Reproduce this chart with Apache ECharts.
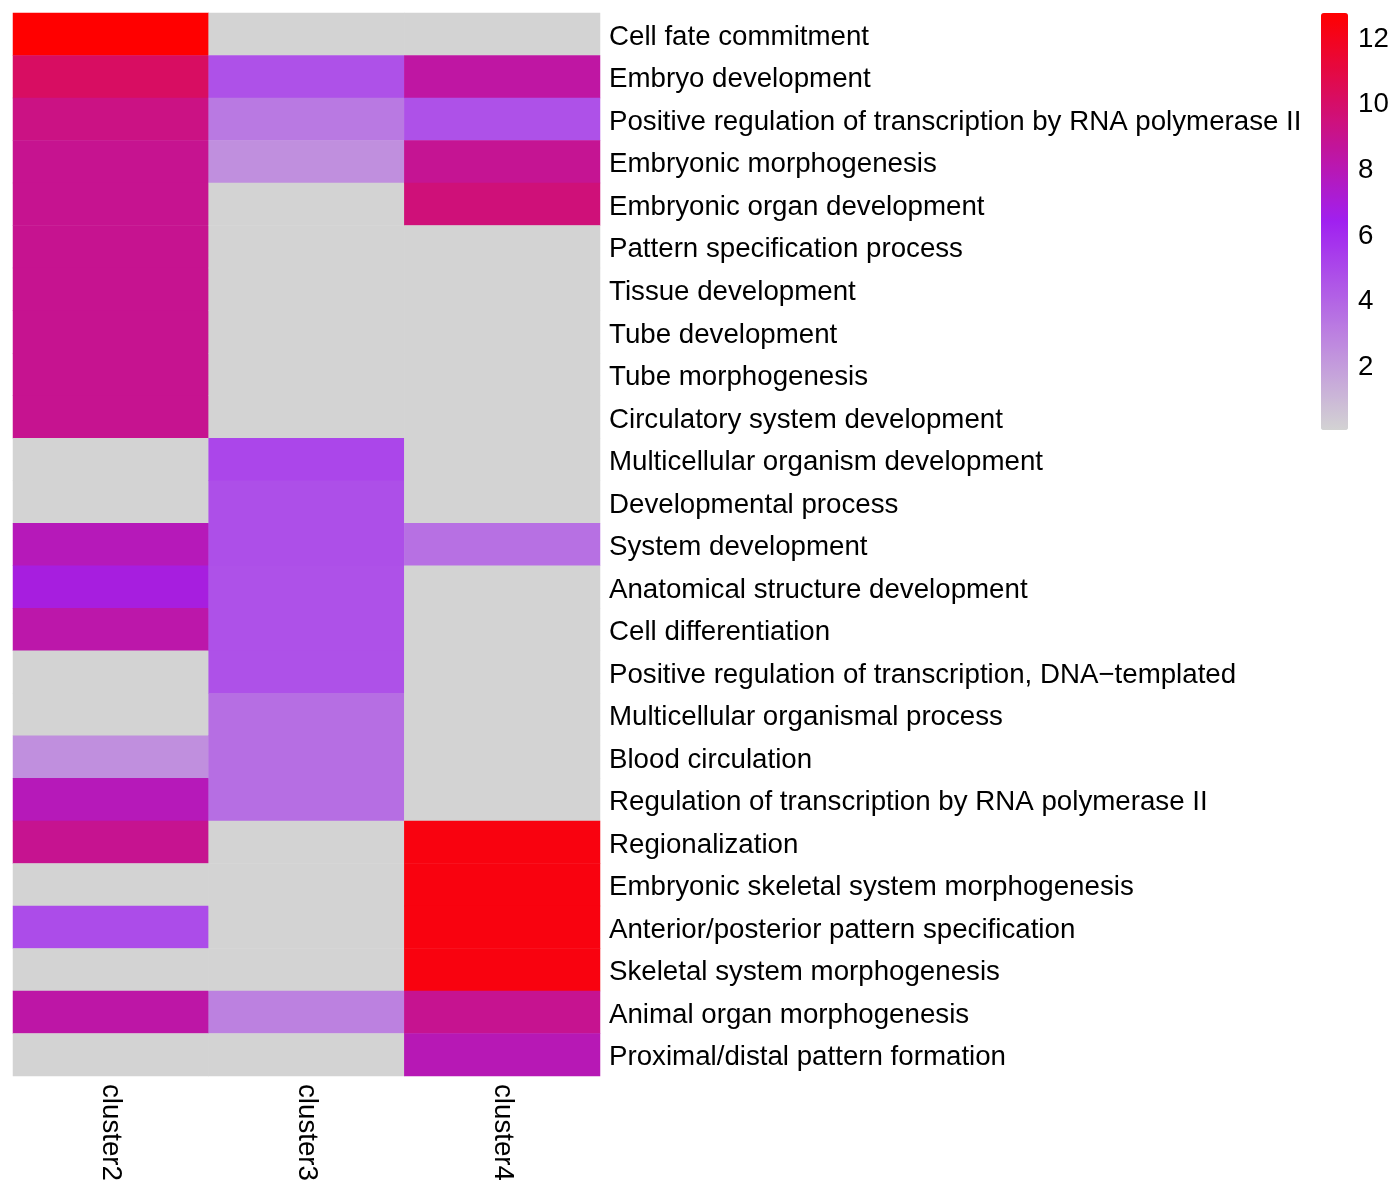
<!DOCTYPE html>
<html>
<head>
<meta charset="utf-8">
<script src="https://cdn.jsdelivr.net/npm/echarts@6/dist/echarts.min.js"></script>
<style>
  html, body { margin: 0; padding: 0; background: #fff; }
  #chart { width: 1400px; height: 1200px; }
</style>
</head>
<body>
<div id="chart"></div>
<script>
// 列（聚类）
const clusters = ['cluster2', 'cluster3', 'cluster4']
// 行（GO 条目），自上而下
const terms = [
  'Cell fate commitment',
  'Embryo development',
  'Positive regulation of transcription by RNA polymerase II',
  'Embryonic morphogenesis',
  'Embryonic organ development',
  'Pattern specification process',
  'Tissue development',
  'Tube development',
  'Tube morphogenesis',
  'Circulatory system development',
  'Multicellular organism development',
  'Developmental process',
  'System development',
  'Anatomical structure development',
  'Cell differentiation',
  'Positive regulation of transcription, DNA\u2212templated',
  'Multicellular organismal process',
  'Blood circulation',
  'Regulation of transcription by RNA polymerase II',
  'Regionalization',
  'Embryonic skeletal system morphogenesis',
  'Anterior/posterior pattern specification',
  'Skeletal system morphogenesis',
  'Animal organ morphogenesis',
  'Proximal/distal pattern formation'
]
// 每列数值（与 terms 顺序一致）
const cluster2Values = [12.7, 10.1, 9.2, 8.9, 8.9, 8.9, 8.9, 8.9, 8.9, 8.9, 0, 0, 7.8, 6.8, 8.2, 0, 0, 2.4, 7.8, 8.9, 0, 4.8, 0, 8.3, 0]
const cluster3Values = [0, 4.6, 3.2, 2.4, 0, 0, 0, 0, 0, 0, 5.0, 4.7, 4.7, 4.6, 4.6, 4.6, 3.6, 3.6, 3.6, 0, 0, 0, 0, 2.9, 0]
const cluster4Values = [0, 8.4, 4.6, 8.8, 9.5, 0, 0, 0, 0, 0, 0, 0, 3.5, 0, 0, 0, 0, 0, 0, 12.3, 12.3, 12.3, 12.3, 8.9, 7.9]
// 图例刻度
const legendTicks = [2, 4, 6, 8, 10, 12]
const colorMin = 0
const colorMax = 12.7

const fontFamily = '"Liberation Sans", Arial, Helvetica, sans-serif'
const fontSize = 27.7

const heatData = []
;[cluster2Values, cluster3Values, cluster4Values].forEach((vals, ci) => {
  vals.forEach((v, ri) => {
    heatData.push([ci, ri, v])
  })
})

const chart = echarts.init(document.getElementById('chart'))
chart.setOption({
  animation: false,
  backgroundColor: '#ffffff',
  grid: [
    { left: 13, top: 13, width: 587, height: 1063 },
    // 色标刻度
    { left: 1321, top: 13, width: 27, height: 417 }
  ],
  xAxis: [
    {
      type: 'category',
      gridIndex: 0,
      data: clusters,
      position: 'bottom',
      axisLine: { show: false },
      axisTick: { show: false },
      splitLine: { show: false },
      axisLabel: {
        rotate: -90,
        margin: 8,
        fontSize,
        color: '#000',
        fontFamily
      }
    },
    {
      type: 'value',
      gridIndex: 1,
      show: false
    }
  ],
  yAxis: [
    {
      type: 'category',
      gridIndex: 0,
      data: terms,
      inverse: true,
      position: 'right',
      axisLine: { show: false },
      axisTick: { show: false },
      splitLine: { show: false },
      axisLabel: {
        margin: 9,
        fontSize,
        color: '#000',
        fontFamily,
        verticalAlign: 'top',
        lineHeight: 6
      }
    },
    {
      type: 'value',
      gridIndex: 1,
      min: colorMin,
      max: colorMax,
      interval: 2,
      position: 'right',
      axisLine: { show: false },
      axisTick: { show: false },
      splitLine: { show: false },
      axisLabel: {
        margin: 10,
        fontSize,
        color: '#000',
        fontFamily,
        verticalAlign: 'top',
        lineHeight: 6,
        showMinLabel: false,
        showMaxLabel: false,
        formatter: (v) => (legendTicks.indexOf(v) >= 0 ? String(v) : '')
      }
    }
  ],
  visualMap: {
    type: 'continuous',
    seriesIndex: 0,
    min: colorMin,
    max: colorMax,
    calculable: false,
    realtime: false,
    left: 1321,
    top: 13,
    padding: 0,
    itemWidth: 27,
    itemHeight: 417,
    text: null,
    showLabel: false,
    orient: 'vertical',
    inRange: { color: ['#D3D3D3', '#A020F0', '#FF0000'] },
    hoverLink: false
  },
  series: [
    {
      type: 'heatmap',
      xAxisIndex: 0,
      yAxisIndex: 0,
      data: heatData,
      itemStyle: { borderWidth: 0 },
      emphasis: { disabled: true },
      label: { show: false }
    },
    {
      type: 'line',
      xAxisIndex: 1,
      yAxisIndex: 1,
      data: [],
      silent: true
    }
  ]
})
</script>
</body>
</html>
